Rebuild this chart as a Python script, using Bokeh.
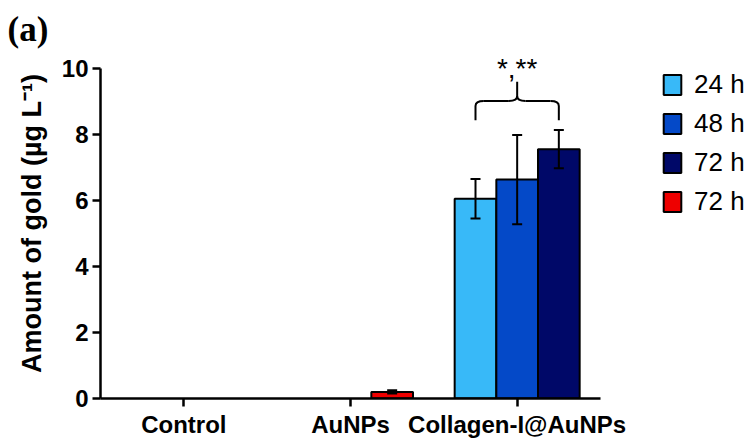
import numpy as np
from bokeh.plotting import figure
from bokeh.models import (ColumnDataSource, Range1d, FixedTicker, Whisker, TeeHead,
                          Legend, LegendItem)
from bokeh.embed import file_html
from bokeh.resources import INLINE
from bokeh.core.properties import value

# ---------------- data ----------------
categories = ["Control", "AuNPs", "Collagen-I@AuNPs"]
collagen_labels = ["24 h", "48 h", "72 h"]
collagen_means = [6.05, 6.63, 7.55]
collagen_errs = [0.60, 1.35, 0.58]
aunps_label = "72 h"
aunps_mean = [0.20]
aunps_err = [0.05]
y_ticks = [0, 2, 4, 6, 8, 10]
significance = "*,**"
panel_tag = "(a)"
y_label = "Amount of gold (µg L⁻¹)"

colors = ["#38B9F8", "#0449C8", "#000868", "#EE0000"]
FONT = "Liberation Sans"

# ---------------- geometry ----------------
bar_w = 0.25
offsets = [-0.25, 0.0, 0.25]
cat_x = {c: i + 0.5 for i, c in enumerate(categories)}
y_end = 10.60
x_end = 3.912

p = figure(width=752, height=440, x_range=Range1d(0, x_end), y_range=Range1d(0, y_end),
           output_backend="svg", toolbar_location=None, title=panel_tag,
           min_border_left=100, min_border_right=0, min_border_top=48, min_border_bottom=40)
p.outline_line_color = None
p.xgrid.visible = False
p.ygrid.visible = False
p.background_fill_color = "white"
p.border_fill_color = "white"

p.title.text_font = "Liberation Serif"
p.title.text_font_size = "35px"
p.title.text_font_style = "bold"
p.title.text_color = "black"
p.title.align = "left"
p.title.offset = -93
p.title.standoff = 0

items = []
whisk_x, whisk_lo, whisk_hi = [], [], []

for i, (lab, m, e) in enumerate(zip(collagen_labels, collagen_means, collagen_errs)):
    x = cat_x["Collagen-I@AuNPs"] + offsets[i]
    src = ColumnDataSource(dict(x=[x], top=[m]))
    r = p.vbar(x="x", top="top", width=bar_w, bottom=0, source=src,
               fill_color=colors[i], line_color="black", line_width=2)
    items.append(LegendItem(label=lab, renderers=[r]))
    whisk_x.append(x); whisk_lo.append(m - e); whisk_hi.append(m + e)

xa = cat_x["AuNPs"] + offsets[2]
src_a = ColumnDataSource(dict(x=[xa], top=aunps_mean))
ra = p.vbar(x="x", top="top", width=bar_w, bottom=0, source=src_a,
            fill_color=colors[3], line_color="black", line_width=2)
items.append(LegendItem(label=aunps_label, renderers=[ra]))
whisk_x.append(xa); whisk_lo.append(aunps_mean[0] - aunps_err[0]); whisk_hi.append(aunps_mean[0] + aunps_err[0])

wsrc = ColumnDataSource(dict(base=whisk_x, lower=whisk_lo, upper=whisk_hi))
wh = Whisker(base="base", lower="lower", upper="upper", source=wsrc,
             line_width=2, line_color="black", level="overlay",
             upper_head=TeeHead(size=10, line_width=2, line_color="black"),
             lower_head=TeeHead(size=10, line_width=2, line_color="black"))
p.add_layout(wh)

# ---------------- significance brace ----------------
xl = cat_x["Collagen-I@AuNPs"] + offsets[0]
xr = cat_x["Collagen-I@AuNPs"] + offsets[2]
xc = cat_x["Collagen-I@AuNPs"]
y_base = max(whisk_hi) + 0.3
step = 0.58
y_h = y_base + step
y_pk = y_h + step
rx, ry = 0.05, 0.15

seg_x0 = [xl, xr, xl + rx, xc + rx, xc]
seg_y0 = [y_base, y_base, y_h, y_h, y_h + ry]
seg_x1 = [xl, xr, xc - rx, xr - rx, xc]
seg_y1 = [y_h - ry, y_h - ry, y_h, y_h, y_pk]
p.segment(x0=seg_x0, y0=seg_y0, x1=seg_x1, y1=seg_y1, line_color="black", line_width=2)

q_x0 = [xl, xr, xc - rx, xc + rx]
q_y0 = [y_h - ry, y_h - ry, y_h, y_h]
q_x1 = [xl + rx, xr - rx, xc, xc]
q_y1 = [y_h, y_h, y_h + ry, y_h + ry]
q_cx = [xl, xr, xc, xc]
q_cy = [y_h, y_h, y_h, y_h]
p.quadratic(x0=q_x0, y0=q_y0, x1=q_x1, y1=q_y1, cx=q_cx, cy=q_cy,
            line_color="black", line_width=2)

p.text(x=[xc], y=[y_pk + 0.4], text=[significance], text_align="center",
       text_baseline="alphabetic", text_font=value(FONT), text_font_size="28px",
       text_color="black")

# ---------------- axes ----------------
p.xaxis.bounds = (0, len(categories))
p.yaxis.bounds = (0, y_ticks[-1])
p.xaxis.ticker = FixedTicker(ticks=[cat_x[c] for c in categories])
p.xaxis.major_label_overrides = {cat_x[c]: c for c in categories}
p.yaxis.ticker = FixedTicker(ticks=y_ticks)

for ax in (p.xaxis, p.yaxis):
    ax.axis_line_width = 2.5
    ax.axis_line_color = "black"
    ax.major_tick_line_width = 2.5
    ax.major_tick_line_color = "black"
    ax.major_tick_out = 8
    ax.major_tick_in = 0
    ax.minor_tick_line_color = None
    ax.major_label_text_font = FONT
    ax.major_label_text_font_style = "bold"
    ax.major_label_text_color = "black"
    ax.major_label_standoff = 4

p.xaxis.major_label_text_font_size = "24px"
p.yaxis.major_label_text_font_size = "24px"

p.yaxis.axis_label = y_label
p.yaxis.axis_label_text_font = FONT
p.yaxis.axis_label_text_font_size = "27px"
p.yaxis.axis_label_text_font_style = "bold"
p.yaxis.axis_label_text_color = "black"
p.yaxis.axis_label_standoff = 12

# ---------------- legend ----------------
legend = Legend(items=items, location=(561, 181), orientation="vertical",
                glyph_width=22, glyph_height=25, label_height=25, spacing=8,
                label_standoff=11, padding=0, margin=0,
                border_line_alpha=0, background_fill_alpha=0,
                label_text_font=FONT, label_text_font_size="26px",
                label_text_color="black")
p.add_layout(legend)

open("out.html", "w").write(file_html(p, INLINE))
